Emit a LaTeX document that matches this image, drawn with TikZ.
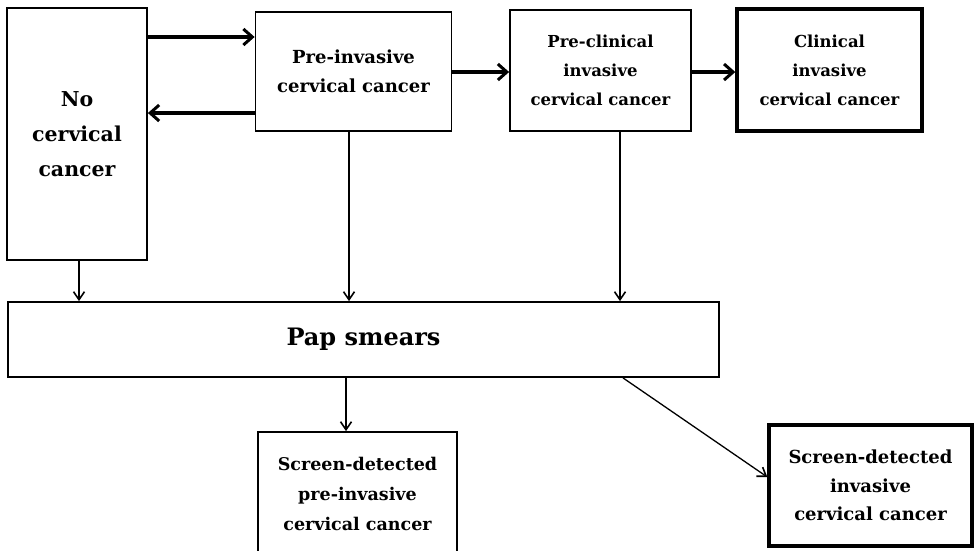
\documentclass[tikz,border=0pt]{standalone}
\usepackage{fontspec}
\setmainfont{DejaVu Serif}
\usetikzlibrary{arrows.meta}
\begin{document}
\begin{tikzpicture}[x=1pt,y=-1pt,
  box/.style={draw=black,line width=1.8pt,fill=white,inner sep=0pt,align=center,font=\bfseries\fontsize{16.5}{29}\selectfont},
  thickbox/.style={box,line width=3.4pt},
  bigarrow/.style={line width=3.4pt,-{Straight Barb[length=9pt,width=16pt,line width=3pt]}},
  thinarrow/.style={line width=1.3pt,-{Straight Barb[length=8pt,width=11pt,line width=1.6pt]}}]
\useasboundingbox (0,0) rectangle (976,550);
\clip (0,0) rectangle (976,550);
\fill[white] (0,0) rectangle (976,550);
% boxes
\node[box,minimum width=140pt,minimum height=252pt,font=\bfseries\fontsize{20.5}{35}\selectfont] (no) at (77,134) {No\\cervical\\cancer};
\node[box,minimum width=196pt,minimum height=119pt,font=\bfseries\fontsize{18}{29}\selectfont] (pre) at (353.5,71.5) {Pre-invasive\\cervical cancer};
\node[box,minimum width=181pt,minimum height=121pt] (precl) at (600.5,70.5) {Pre-clinical\\invasive\\cervical cancer};
\node[thickbox,minimum width=185pt,minimum height=122pt] (clin) at (829.5,70) {Clinical\\invasive\\cervical cancer};
\node[box,minimum width=711pt,minimum height=75pt,font=\bfseries\fontsize{24}{28}\selectfont] (pap) at (363.5,339.5) {Pap smears};
\node[box,minimum width=199pt,minimum height=124pt,font=\bfseries\fontsize{17.5}{30}\selectfont] (sdpre) at (357.5,494) {Screen-detected\\pre-invasive\\cervical cancer};
\node[thickbox,minimum width=203pt,minimum height=121pt,font=\bfseries\fontsize{18}{28.5}\selectfont] (sdinv) at (870.5,485.5) {Screen-detected\\invasive\\cervical cancer};
% helper coordinates
\coordinate (yA) at (0,37);
\coordinate (yB) at (0,113);
\coordinate (yC) at (0,72);
\coordinate (xA) at (79,0);
\coordinate (xB) at (349,0);
\coordinate (xC) at (620,0);
\coordinate (xD) at (346,0);
\coordinate (xE) at (623,0);
\coordinate (yD) at (0,477);
% arrows
\draw[bigarrow] (no.east |- yA) -- (pre.west |- yA);
\draw[bigarrow] (pre.west |- yB) -- (no.east |- yB);
\draw[bigarrow] (pre.east |- yC) -- (precl.west |- yC);
\draw[bigarrow] (precl.east |- yC) -- (clin.west |- yC);
\draw[thinarrow] (no.south -| xA) -- (pap.north -| xA);
\draw[thinarrow] (pre.south -| xB) -- (pap.north -| xB);
\draw[thinarrow] (precl.south -| xC) -- (pap.north -| xC);
\draw[thinarrow] (pap.south -| xD) -- (sdpre.north -| xD);
\draw[thinarrow] (pap.south -| xE) -- (sdinv.west |- yD);
\end{tikzpicture}
\end{document}
